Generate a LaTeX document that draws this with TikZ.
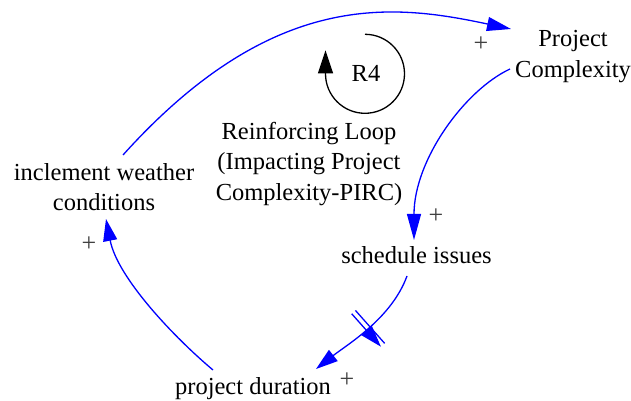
\documentclass[tikz,border=0pt]{standalone}
\usepackage{fontspec}
\setmainfont{Liberation Serif}
\usetikzlibrary{arrows.meta,decorations.markings}
\begin{document}
\begin{tikzpicture}[x=1pt,y=1pt,
  lbl/.style={font=\fontsize{24.5}{30.5}\selectfont, align=center, inner sep=0pt},
  sgn/.style={font=\fontsize{26}{26}\selectfont, inner sep=0pt, text=black!75},
  link/.style={draw=blue, line width=1.3pt, -{Triangle[length=#1,width=14pt]}},
  link/.default=23pt,
  delaymark/.style={postaction={decorate, decoration={markings,
      mark=at position 0.5 with {\draw[blue, line width=1.3pt]
        (-2.5pt,-22pt) -- (-2.5pt,22pt) (2.5pt,-22pt) -- (2.5pt,22pt);}}}},
]
\useasboundingbox (0,0) rectangle (631,401);

% variables
\node[lbl] (pc) at (573,344.7) {Project\\Complexity};
\node[lbl] (iwc) at (104,214) {inclement weather\\conditions};
\node[lbl, anchor=base] (si) at (416.5,137.7) {schedule issues};
\node[lbl, anchor=base] (pd) at (253,6) {project duration};

% loop label
\node[lbl] (rl) at (309,237.4) {Reinforcing Loop\\(Impacting Project\\Complexity-PIRC)};
\node[lbl, anchor=base] (r4) at (366,319.3) {R4};
\coordinate (lc) at (365,327.2);
\draw[line width=1.3pt, -{Triangle[length=23pt,width=15pt]}]
  ([shift={(90:39.5)}]lc) arc[start angle=90, end angle=-180, radius=39.5] -- ++(0,23.5);

% causal links
\draw[link=24pt] ([shift={(19,32)}]iwc.center)
  .. controls +(48:225) and +(168:119) .. ([shift={(-62,27.3)}]pc.center);
\draw[link=26pt] ([shift={(-63,-12.7)}]pc.center)
  .. controls +(205:50) and +(90:80) .. ([shift={(-2.5,23.3)}]si.base);
\draw[link=22pt, delaymark] ([shift={(-9.5,-12.7)}]si.base)
  .. controls +(250:45) and +(38:40) .. ([shift={(63,26)}]pd.base);
\draw[link=22pt] ([shift={(-40,25)}]pd.base)
  .. controls +(140:50) and +(-79:60) .. ([shift={(2,-32)}]iwc.center);

% polarities
\node[sgn] (s1) at (481,357) {+};
\node[sgn] (s2) at (436,185) {+};
\node[sgn] (s3) at (89,157) {+};
\node[sgn] (s4) at (347,21) {+};
\end{tikzpicture}
\end{document}
